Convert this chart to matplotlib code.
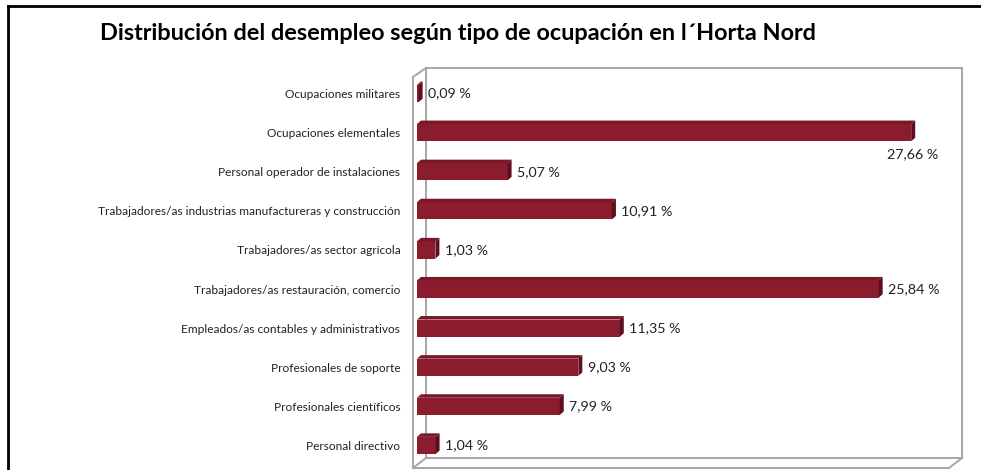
import matplotlib.pyplot as plt
from matplotlib.lines import Line2D
from matplotlib.patches import Polygon

# Datos
categorias = ["Ocupaciones militares",
              "Ocupaciones elementales",
              "Personal operador de instalaciones",
              "Trabajadores/as industrias manufactureras y construcción",
              "Trabajadores/as sector agrícola",
              "Trabajadores/as restauración, comercio",
              "Empleados/as contables y administrativos",
              "Profesionales de soporte",
              "Profesionales científicos",
              "Personal directivo"]
valores = [0.09, 27.66, 5.07, 10.91, 1.03, 25.84, 11.35, 9.03, 7.99, 1.04]
etiquetas = ["0,09 %", "27,66 %", "5,07 %", "10,91 %", "1,03 %",
             "25,84 %", "11,35 %", "9,03 %", "7,99 %", "1,04 %"]
titulo = "Distribución del desempleo según tipo de ocupación en l´Horta Nord"

plt.rcParams['font.family'] = ['Lato', 'DejaVu Sans']

W, H = 981, 470
fig = plt.figure(figsize=(W / 100, H / 100), dpi=100)

def fx(x):
    return x / W

def fy(y):
    return 1 - y / H

# Ejes en el plano de las barras (pixeles de la imagen)
x0, x1, y0, y1 = 417, 953, 74, 465
ax = fig.add_axes([fx(x0), fy(y1), (x1 - x0) / W, (y1 - y0) / H])
ax.set_xlim(0, 30)
ax.set_ylim(len(categorias) - 0.5, -0.5)
for s in ax.spines.values():
    s.set_visible(False)
ax.set_xticks([])
ax.set_yticks(range(len(categorias)))
ax.set_yticklabels(categorias, fontsize=8.6, color="#222222")
ax.tick_params(axis="y", length=0, pad=12)
ax.patch.set_alpha(0)

# Paredes del grafico 3D
gris = "#a6a6a6"
lineas = [
    [(426, 68), (962, 68)], [(962, 68), (962, 458)],
    [(426, 68), (426, 458)], [(426, 458), (962, 458)],
    [(413, 77), (413, 468)], [(413, 468), (949, 468)],
    [(413, 77), (426, 68)], [(413, 468), (426, 458)], [(949, 468), (962, 458)],
]
for (a, b) in lineas:
    fig.add_artist(Line2D([fx(a[0]), fx(b[0])], [fy(a[1]), fy(b[1])],
                          color=gris, lw=1.4, transform=fig.transFigure, zorder=0))

# Barras con efecto 3D
h = 0.44
dx = 4 / ((x1 - x0) / 30)
dy = 3.5 / ((y1 - y0) / len(categorias))
frente = "#8b1c2e"
arriba = "#7a1827"
lado = "#5c0f1d"
for i, v in enumerate(valores):
    ax.barh(i, v, height=h, color=frente, zorder=3)
    top = i - h / 2
    bot = i + h / 2
    ax.add_patch(Polygon([(0, top), (dx, top - dy), (v + dx, top - dy), (v, top)],
                         closed=True, facecolor=arriba, edgecolor="none", zorder=3))
    ax.add_patch(Polygon([(v, top), (v + dx, top - dy), (v + dx, bot - dy), (v, bot)],
                         closed=True, facecolor=lado, edgecolor="none", zorder=3))
    if i == 1:
        ax.text(v + 1.5, i + 0.55, etiquetas[i], fontsize=10.3, ha="right",
                va="center", color="#222222")
    else:
        ax.text(v + dx + 0.3, i, etiquetas[i], fontsize=10.3, ha="left",
                va="center", color="#222222")

# Titulo
fig.text(fx(100), fy(33), titulo, fontsize=16.9, fontweight="bold",
         ha="left", va="center", color="black")

# Borde exterior
fig.add_artist(Line2D([fx(8), fx(8)], [fy(6), 0], color="black", lw=2,
                      transform=fig.transFigure))
fig.add_artist(Line2D([fx(8), 1], [fy(6), fy(6)], color="black", lw=2,
                      transform=fig.transFigure))

fig.savefig("out.png", dpi=100)
